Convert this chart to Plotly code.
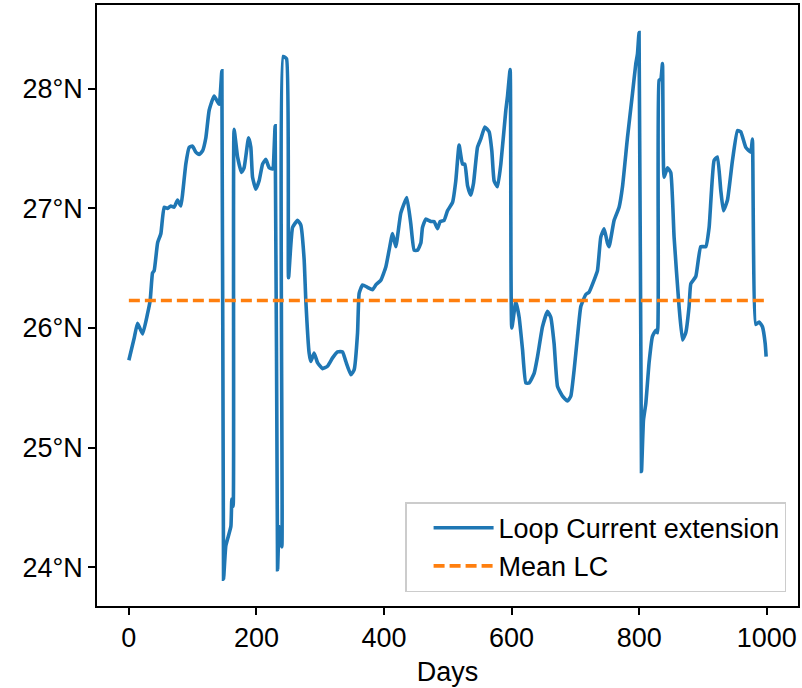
import plotly.graph_objects as go

days = [0, 8.5, 13.6, 21.5, 29.3, 33.4, 37.1, 39.7, 45, 50.2, 55.3, 60.7, 65.8, 71, 76.3, 81.5, 84.2,
        89.3, 94.5, 99.8, 105, 110.2, 115.5, 120.7, 125.9, 133.7, 141.5, 145.8, 148.4,
        152, 159.9, 161.4, 163.5, 165, 170.4, 176.6, 180.7, 187.6, 191.2, 193.9, 199.1, 204.2,
        209.6, 214.7, 219.9, 225.2, 229.3, 233.1, 235.6, 239.8, 241.9, 247.2, 250.3, 256.6,
        264.4, 269.6, 274.8, 277.4, 282.6, 285.3, 290.4, 295.8, 303.6, 311.4, 319.3, 327.1,
        335, 340.1, 348, 353.1, 358.5, 361, 366.3, 374.1, 382, 387.1, 395, 402.8, 408, 413.3,
        418.5, 426.3, 435.7, 442, 447.2, 452.5, 457.7, 460.3, 465.5, 473.4, 478.5, 483.9,
        487.9, 494.2, 499.5, 507.4, 512.5, 517.7, 523, 526.7, 530.9, 536, 540.3, 546.5, 551.7,
        558, 564.7, 569, 572.6, 577.9, 583.1, 590.9, 593.6, 597.7, 600.3, 606.6, 611.8, 617.1,
        622.3, 627.4, 635.3, 640.6, 648.4, 656.3, 661.4, 666.6, 672, 679.8, 687.6, 692.8, 698,
        703.3, 708.5, 716.3, 721.5, 729.3, 734.6, 739.8, 745, 750.3, 752.8, 760.7, 768.5,
        773.8, 781.6, 789.5, 794.7, 797.3, 799.8, 803.6, 806.7, 810.4, 815.5, 820.8, 826,
        828.7, 831.2, 833.9, 836.5, 839, 844.4, 849.5, 854.7, 862.5, 867.9, 873, 878.2, 880.9,
        888.7, 896.5, 904.4, 909.6, 917.4, 922.7, 927.9, 932.1, 938.4, 946.2, 954.1, 959.2,
        967.1, 974.9, 977.5, 982.7, 987.9, 993.2, 997.5, 999]

lat = [25.73, 25.92, 26.04, 25.95, 26.12, 26.23, 26.46, 26.48, 26.71, 26.79, 27.01, 27.00, 27.02,
       27.01, 27.07, 27.02, 27.12, 27.37, 27.51, 27.52, 27.47, 27.45, 27.48, 27.59, 27.82,
       27.94, 27.87, 28.15, 23.90,
       24.18, 24.34, 24.57, 24.51, 27.66, 27.43, 27.30, 27.34, 27.59, 27.51, 27.26, 27.16,
       27.23, 27.37, 27.41, 27.34, 27.33, 27.69, 23.98, 24.34, 24.17, 28.27, 28.25, 26.42,
       26.84, 26.90, 26.86, 26.57, 26.23, 25.79, 25.72, 25.79, 25.71, 25.66, 25.68, 25.75,
       25.80, 25.80, 25.72, 25.61, 25.65, 25.96, 26.29, 26.36, 26.34, 26.32, 26.36, 26.40,
       26.51, 26.65, 26.79, 26.68, 26.96, 27.09, 26.87, 26.65, 26.65, 26.71, 26.84, 26.91,
       26.89, 26.89, 26.83, 26.89, 26.90, 26.98, 27.05, 27.23, 27.53, 27.37, 27.37, 27.19,
       27.11, 27.21, 27.51, 27.58, 27.68, 27.64, 27.48, 27.23, 27.18, 27.37, 27.82, 27.94,
       28.16, 26.00, 26.22, 26.09, 25.82, 25.54, 25.54, 25.62, 25.76, 26.01, 26.14, 26.09,
       25.87, 25.51, 25.43, 25.39, 25.43, 25.65, 25.93, 26.18, 26.28, 26.30, 26.40, 26.48,
       26.76, 26.83, 26.71, 26.68, 26.90, 27.01, 27.18, 27.59, 27.96, 28.21, 28.29, 28.47,
       24.80, 25.23, 25.37, 25.71, 25.93, 25.98, 25.96, 28.07, 28.08, 28.21, 27.26, 27.34,
       27.30, 26.76, 26.18, 25.90, 25.96, 26.18, 26.37, 26.43, 26.68, 26.68, 26.84, 27.40,
       27.43, 27.15, 26.98, 27.07, 27.40, 27.65, 27.64, 27.51, 27.47, 27.58, 26.03, 26.05,
       26.01, 25.87, 25.76]

mean_lc = 26.23
y_ticks = [24, 25, 26, 27, 28]
y_labels = ["24°N", "25°N", "26°N", "27°N", "28°N"]
x_ticks = [0, 200, 400, 600, 800, 1000]

FONT = "Liberation Sans, Arial, sans-serif"
FS = 27

fig = go.Figure()
fig.add_trace(go.Scatter(x=days, y=lat, mode="lines", name="Loop Current extension",
                         line=dict(color="#1f77b4", width=3.6, shape="spline", smoothing=0.4)))
fig.add_trace(go.Scatter(x=[days[0], days[-1]], y=[mean_lc, mean_lc], mode="lines",
                         name="Mean LC",
                         line=dict(color="#ff7f0e", width=3.6, dash="11px,5px")))

axis_common = dict(showline=True, linecolor="black", linewidth=1.5, mirror=True,
                   ticks="outside", ticklen=7, tickwidth=1.5, tickcolor="black",
                   showgrid=False, zeroline=False, automargin=False,
                   tickfont=dict(family=FONT, size=FS, color="black"))

fig.update_xaxes(range=[-49.95, 1048.95], tickvals=x_ticks,
                 title=dict(text="Days", font=dict(family=FONT, size=FS, color="black"), standoff=10),
                 **axis_common)
fig.update_yaxes(range=[23.676, 28.70], tickvals=y_ticks, ticktext=y_labels, **axis_common)

fig.update_layout(
    width=802, height=688,
    margin=dict(l=97, r=4, t=5, b=82),
    plot_bgcolor="white", paper_bgcolor="white",
    font=dict(family=FONT, size=FS, color="black"),
    showlegend=True,
    legend=dict(x=0.983, y=0.023, xanchor="right", yanchor="bottom",
                bgcolor="white", bordercolor="#cccccc", borderwidth=1.5,
                font=dict(family=FONT, size=FS, color="black"),
                tracegroupgap=0, itemwidth=60, indentation=22),
)

fig.write_html("out.html", config={"displayModeBar": False},
               post_script="document.body.style.margin='0';document.body.style.padding='0';")
